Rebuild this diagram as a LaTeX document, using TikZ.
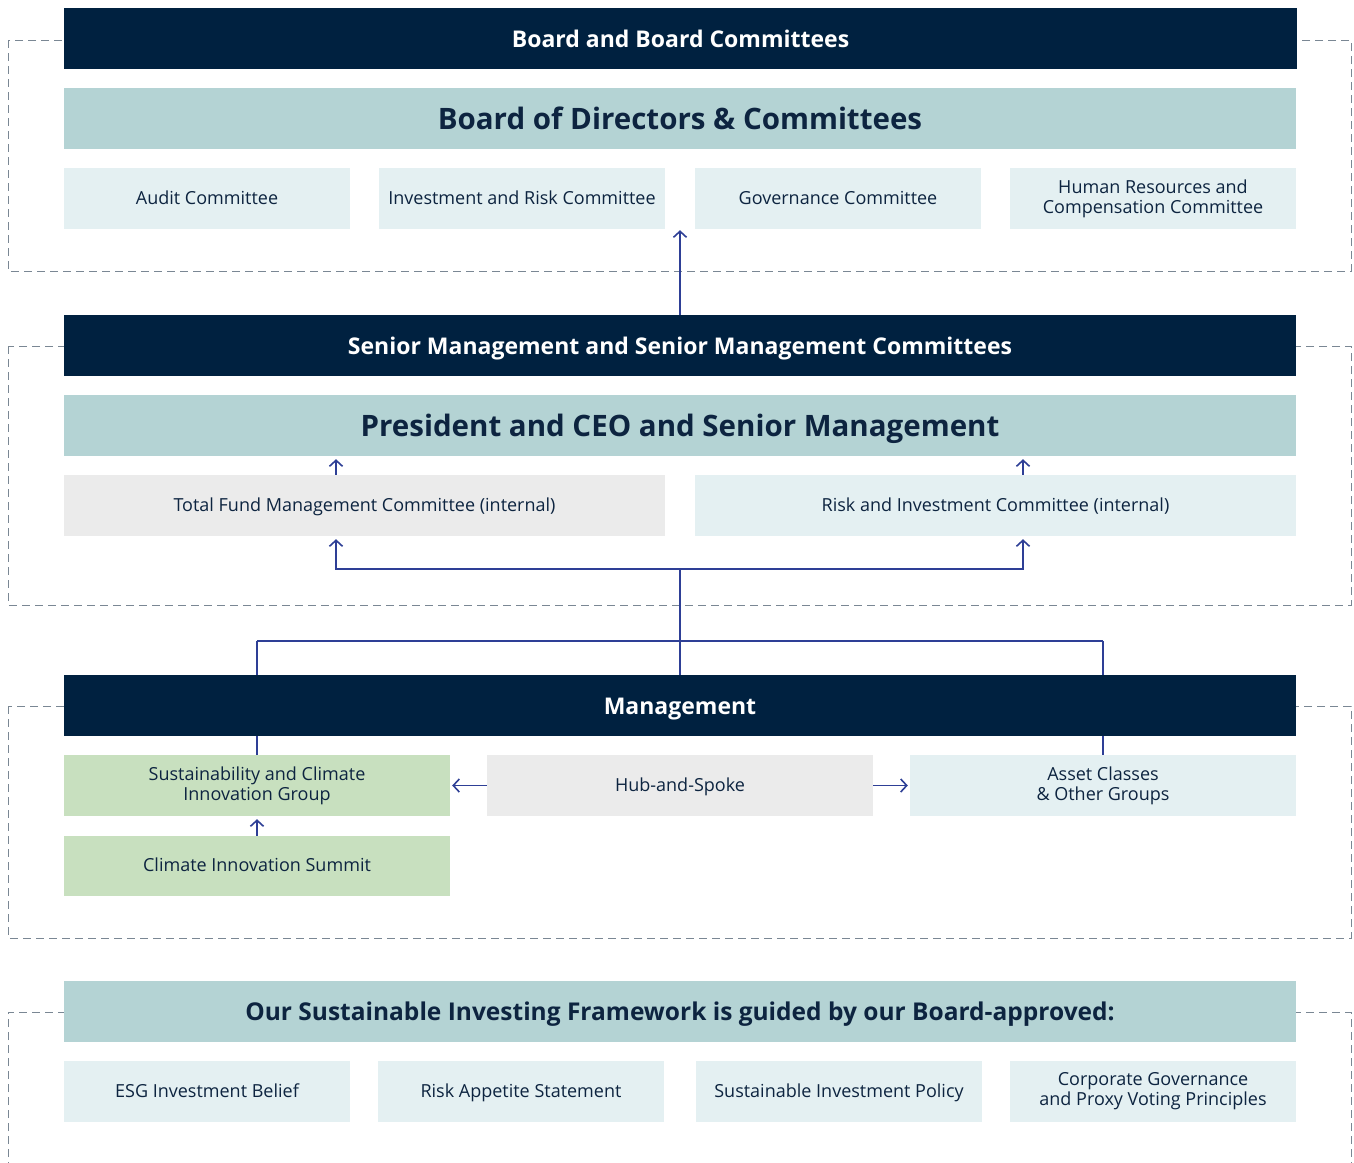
\documentclass[tikz,border=0pt]{standalone}
\usepackage{fontspec}
\setmainfont{Open Sans}
\usetikzlibrary{arrows.meta}
\pgfdeclarelayer{bg}
\pgfsetlayers{bg,main}
\definecolor{navy}{HTML}{002140}
\definecolor{teal}{HTML}{B4D3D4}
\definecolor{lblue}{HTML}{E4F0F2}
\definecolor{lgray}{HTML}{EBEBEB}
\definecolor{lgreen}{HTML}{C8E0BF}
\definecolor{txt}{HTML}{0D2440}
\definecolor{arr}{HTML}{2E3F96}
\definecolor{dash}{HTML}{7A8794}
\tikzset{
  header/.style={fill=navy, text=white, font=\fontsize{23}{26}\selectfont\bfseries, minimum width=1232pt, minimum height=61pt, inner sep=0pt, text height=19pt, text depth=2pt},
  title/.style={fill=teal, text=txt, font=\fontsize{29.5}{33}\selectfont\bfseries, minimum width=1232pt, minimum height=61pt, inner sep=0pt, text height=24pt, text depth=3pt},
  mbox/.style={fill=lblue, text=txt, font=\fontsize{18}{20}\selectfont, minimum width=286pt, minimum height=61pt, inner sep=0pt, align=center},
  sbox/.style={mbox, text height=14pt, text depth=3pt},
  frame/.style={draw=dash, line width=1pt, dash pattern=on 8pt off 5pt},
  conn/.style={draw=arr, line width=1.8pt},
  tip/.style={-{Straight Barb[length=6pt,width=13pt,line width=1.6pt]}},
}
\begin{document}
\begin{tikzpicture}[x=1pt,y=-1pt]
\useasboundingbox (0,0) rectangle (1354,1162);
% Section 1
\node[header, minimum width=1233pt] (h1) at (680.5,38.5) {Board and Board Committees};
\node[title] (bod) at (680,118.5) {Board of Directors \& Committees};
\node[sbox] (audit) at (207,198.5) {Audit Committee};
\node[sbox] (irc) at (522,198.5) {Investment and Risk Committee};
\node[sbox] (gov) at (838,198.5) {Governance Committee};
\node[mbox] (hr) at (1153,198.5) {Human Resources and\\Compensation Committee};
% Section 2
\node[header] (h2) at (680,345.5) {Senior Management and Senior Management Committees};
\node[title] (pres) at (680,425.5) {President and CEO and Senior Management};
\node[sbox, fill=lgray, minimum width=601pt] (tfmc) at (364.5,505.5) {Total Fund Management Committee (internal)};
\node[sbox, minimum width=601pt] (ric) at (995.5,505.5) {Risk and Investment Committee (internal)};
% Section 3
\node[header] (h3) at (680,705.5) {Management};
\node[mbox, fill=lgreen, minimum width=386pt] (scig) at (257,785.5) {Sustainability and Climate\\Innovation Group};
\node[sbox, fill=lgray, minimum width=386pt] (hub) at (680,785.5) {Hub-and-Spoke};
\node[mbox, minimum width=386pt] (asset) at (1103,785.5) {Asset Classes\\\&\ Other Groups};
\node[sbox, fill=lgreen, minimum width=386pt, minimum height=60pt] (cis) at (257,866) {Climate Innovation Summit};
% Section 4
\node[title, font=\fontsize{24.5}{28}\selectfont\bfseries, text height=20pt, text depth=3pt] (sif) at (680,1011.5) {Our Sustainable Investing Framework is guided by our Board-approved:};
\node[sbox] (esg) at (207,1091.5) {ESG Investment Belief};
\node[sbox] (ras) at (521,1091.5) {Risk Appetite Statement};
\node[sbox] (sip) at (839,1091.5) {Sustainable Investment Policy};
\node[mbox] (cgp) at (1153,1091.5) {Corporate Governance\\and Proxy Voting Principles};
% coordinates
\coordinate (j1) at (680,641);
\coordinate (j2) at (680,569);
\coordinate (jl) at (336,569);
\coordinate (jr) at (1023,569);
\coordinate (ml) at (257,641);
\coordinate (mr) at (1103,641);
\begin{pgfonlayer}{bg}
\fill[white] (0,0) rectangle (1354,1162);
\draw[frame] (8,40) rectangle (1351,271);
\draw[frame] (8,346) rectangle (1351,605);
\draw[frame] (8,706) rectangle (1351,938);
\draw[frame] (8,1170) -- (8,1012) -- (1351,1012) -- (1351,1170);
\draw[conn, tip, shorten >=1pt] (h2.north) -- (gov.south west -| h2.north);
\draw[conn] (j1) -- (j2);
\draw[conn, tip, shorten >=3pt] (j2) -- (jl) -- (jl |- tfmc.south);
\draw[conn, tip, shorten >=3pt] (j2) -- (jr) -- (jr |- ric.south);
\draw[conn, tip, shorten >=3pt] (jl |- tfmc.north) -- (jl |- pres.south);
\draw[conn, tip, shorten >=3pt] (jr |- ric.north) -- (jr |- pres.south);
\draw[conn] (ml) -- (mr);
\draw[conn] (ml) -- (scig.north);
\draw[conn] (mr) -- (asset.north);
\draw[conn] (j1) -- (h3.north);
\draw[conn, tip, shorten >=2pt] (hub.west) -- (scig.east);
\draw[conn, tip, shorten >=2pt] (hub.east) -- (asset.west);
\draw[conn, tip, shorten >=3pt] (cis.north) -- (scig.south);
\end{pgfonlayer}
\end{tikzpicture}
\end{document}
